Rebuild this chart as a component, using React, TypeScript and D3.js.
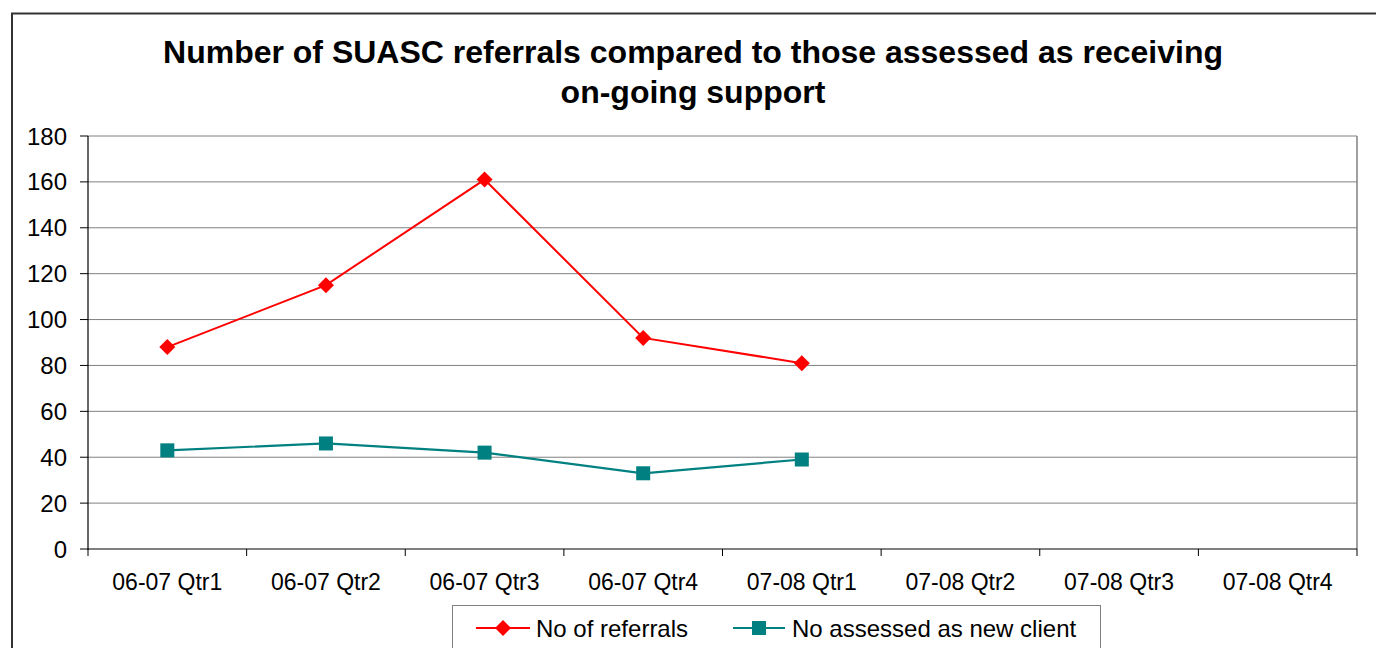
import React from "react";
import * as d3 from "d3";

const categories = ["06-07 Qtr1", "06-07 Qtr2", "06-07 Qtr3", "06-07 Qtr4", "07-08 Qtr1", "07-08 Qtr2", "07-08 Qtr3", "07-08 Qtr4"];
const referrals = [88, 115, 161, 92, 81];
const assessed = [43, 46, 42, 33, 39];
const yTicks = [0, 20, 40, 60, 80, 100, 120, 140, 160, 180];
const titleLines = ["Number of SUASC referrals compared to those assessed as receiving", "on-going support"];
const seriesNames = ["No of referrals", "No assessed as new client"];

const W = 1376, H = 648;
const plot = { left: 88, top: 136, right: 1357, bottom: 549 };
const font = "'Liberation Sans', Arial, sans-serif";

export default function App() {
  const x = d3.scaleBand<string>().domain(categories).range([plot.left, plot.right]).padding(0);
  const y = d3.scaleLinear().domain([0, 180]).range([plot.bottom, plot.top]);
  const cx = (i: number) => (x(categories[i]) as number) + x.bandwidth() / 2;
  const line = d3.line<number>().x((_, i) => cx(i)).y((d) => y(d));
  const red = "#FF0000", teal = "#008080";
  const diamond = (px: number, py: number, r = 8) => `M${px},${py - r}L${px + r},${py}L${px},${py + r}L${px - r},${py}Z`;
  return (
    <svg width={W} height={H} style={{ position: "absolute", left: 0, top: 0, background: "#fff" }} fontFamily={font}>
      <rect x={12} y={13.5} width={1400} height={700} fill="#fff" stroke="#333" strokeWidth={2} />
      {titleLines.map((t, i) => (
        <text key={i} x={693} y={63 + i * 40} textAnchor="middle" fontSize={32} fontWeight="bold" fill="#000">{t}</text>
      ))}
      {yTicks.map((t) => (
        <g key={t}>
          {t > 0 && <line x1={plot.left} x2={plot.right} y1={y(t)} y2={y(t)} stroke="#808080" strokeWidth={1} />}
          <line x1={plot.left - 8} x2={plot.left} y1={y(t)} y2={y(t)} stroke="#000" strokeWidth={1} />
          <text x={67} y={y(t) + 8.5} textAnchor="end" fontSize={24} fill="#000">{t}</text>
        </g>
      ))}
      <line x1={plot.right} x2={plot.right} y1={plot.top} y2={plot.bottom} stroke="#808080" strokeWidth={1.5} />
      <line x1={plot.left} x2={plot.left} y1={plot.top} y2={plot.bottom + 1} stroke="#000" strokeWidth={1.2} />
      <line x1={plot.left} x2={plot.right} y1={plot.bottom} y2={plot.bottom} stroke="#000" strokeWidth={1.2} />
      {categories.map((c, i) => (
        <g key={c}>
          <line x1={x(c) as number} x2={x(c) as number} y1={plot.bottom} y2={plot.bottom + 7} stroke="#000" strokeWidth={1} />
          <text x={cx(i)} y={590} textAnchor="middle" fontSize={23} fill="#000">{c}</text>
        </g>
      ))}
      <line x1={plot.right} x2={plot.right} y1={plot.bottom} y2={plot.bottom + 7} stroke="#000" strokeWidth={1} />
      <path d={line(referrals) || ""} fill="none" stroke={red} strokeWidth={2} />
      {referrals.map((v, i) => <path key={i} d={diamond(cx(i), y(v))} fill={red} />)}
      <path d={line(assessed) || ""} fill="none" stroke={teal} strokeWidth={2.2} />
      {assessed.map((v, i) => <rect key={i} x={cx(i) - 7} y={y(v) - 7} width={14} height={14} fill={teal} />)}
      <rect x={452.5} y={605.5} width={648} height={60} fill="#fff" stroke="#808080" strokeWidth={1} />
      <line x1={476} x2={530} y1={628} y2={628} stroke={red} strokeWidth={2} />
      <path d={diamond(503, 628, 8)} fill={red} />
      <text x={536} y={637} fontSize={24} fill="#000">{seriesNames[0]}</text>
      <line x1={733} x2={785} y1={628} y2={628} stroke={teal} strokeWidth={2.2} />
      <rect x={752} y={621} width={14} height={14} fill={teal} />
      <text x={792} y={637} fontSize={24} fill="#000">{seriesNames[1]}</text>
    </svg>
  );
}
